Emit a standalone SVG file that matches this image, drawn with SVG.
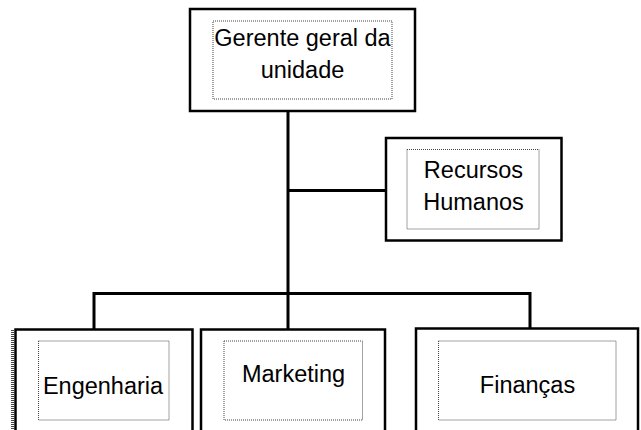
<svg xmlns="http://www.w3.org/2000/svg" width="641" height="430" viewBox="0 0 641 430">
<style>
.box{fill:#fff;stroke:#000;stroke-width:2.5}
.inner{fill:none;stroke:#444;stroke-width:1;stroke-dasharray:1 1}
.lbl{font-family:"Liberation Sans",Arial,sans-serif;font-size:23.5px;fill:#000;text-anchor:middle}
.conn{fill:none;stroke:#000;stroke-width:3}
</style>
<rect width="641" height="430" fill="#fff"/>
<g id="connectors">
<path class="conn" d="M288,111 V330"/>
<path class="conn" d="M288,190.5 H386"/>
<path class="conn" d="M94,330 V293.5 H530 V328.5"/>
</g>
<g id="gerente">
<rect class="box" x="190" y="9" width="225" height="102"/>
<rect class="inner" x="213" y="21" width="179" height="78"/>
<text class="lbl" x="302.5" y="45.5">Gerente geral da</text>
<text class="lbl" x="302.5" y="77.5">unidade</text>
</g>
<g id="rh">
<rect class="box" x="386" y="138" width="175.5" height="102.5"/>
<rect class="inner" x="407" y="149.5" width="132" height="79.5"/>
<text class="lbl" x="473.5" y="177.5">Recursos</text>
<text class="lbl" x="473.5" y="210">Humanos</text>
</g>
<g id="engenharia">
<line x1="12.5" y1="330" x2="12.5" y2="430" stroke="#444" stroke-width="3" stroke-dasharray="1 1"/>
<rect class="box" x="15.5" y="329.5" width="177" height="110"/>
<rect class="inner" x="38.5" y="341" width="130.5" height="79"/>
<text class="lbl" x="103" y="393.5">Engenharia</text>
</g>
<g id="marketing">
<rect class="box" x="201" y="329.5" width="184" height="110"/>
<rect class="inner" x="224" y="341" width="138.5" height="79"/>
<text class="lbl" x="293.5" y="382">Marketing</text>
</g>
<g id="financas">
<rect class="box" x="416" y="328.5" width="222" height="111"/>
<rect class="inner" x="438.5" y="341" width="177.5" height="79"/>
<text class="lbl" x="527.5" y="392.5">Finanças</text>
</g>
</svg>
